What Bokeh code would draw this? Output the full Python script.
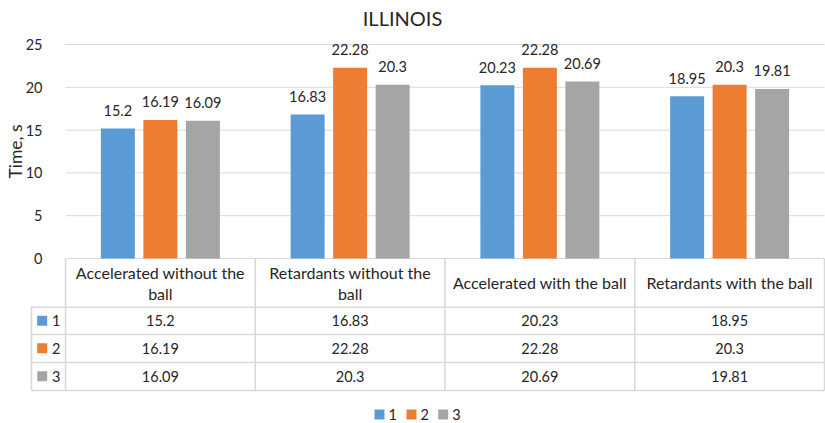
from bokeh.plotting import figure
from bokeh.models import Range1d, FixedTicker, ColumnDataSource
from bokeh.transform import dodge
from bokeh.core.properties import value
from bokeh.embed import file_html
from bokeh.resources import INLINE

# ---------------- data ----------------
title_text = "ILLINOIS"
categories = ["Accelerated without the ball", "Retardants without the ball",
              "Accelerated with the ball", "Retardants with the ball"]
header_lines = [["Accelerated without the", "ball"], ["Retardants without the", "ball"],
                ["Accelerated with the ball"], ["Retardants with the ball"]]
series_names = ["1", "2", "3"]
series1 = [15.2, 16.83, 20.23, 18.95]
series2 = [16.19, 22.28, 22.28, 20.3]
series3 = [16.09, 20.3, 20.69, 19.81]
y_ticks = [0, 5, 10, 15, 20, 25]
y_label = "Time, s"

# ---------------- style / layout ----------------
colors = ["#5B9BD5", "#ED7D31", "#A5A5A5"]
FONT = "Lato"
TXT = "#262626"
GRID = "#d9d9d9"
FS_NUM = "14.5px"
FS_TXT = "16px"
W, H = 825, 423
PLOT_L = 65         # left of category area (px)
PLOT_R = 824
TOP = 44            # y = 25
ZERO = 258          # y = 0
PX = (PLOT_R - PLOT_L) / 4.0
PY = (ZERO - TOP) / 25.0
offsets = [-42.5 / PX, 0.0, 42.5 / PX]
bar_w = 34 / PX

def fx(px):
    return (px - PLOT_L) / PX

series = [series1, series2, series3]
n = len(categories)
xs = [i + 0.5 for i in range(n)]

p = figure(width=W, height=H,
           x_range=Range1d(fx(0), fx(W)),
           y_range=Range1d(-(H - ZERO) / PY, 25 + TOP / PY),
           output_backend="svg", toolbar_location=None, x_axis_location=None,
           min_border=0)
p.outline_line_color = None
p.grid.visible = False
# table coordinates: pixels below the zero line
p.extra_y_ranges = {"tbl": Range1d(start=H - ZERO, end=-ZERO)}

ax = p.yaxis[0]
ax.fixed_location = 0
ax.bounds = (y_ticks[0], y_ticks[-1])
ax.ticker = FixedTicker(ticks=y_ticks)
ax.axis_line_color = None
ax.major_tick_line_color = None
ax.minor_tick_line_color = None
ax.major_label_standoff = 17
ax.major_label_text_font = FONT
ax.major_label_text_font_size = FS_NUM
ax.major_label_text_color = TXT
ax.axis_label = y_label
ax.axis_label_text_font = FONT
ax.axis_label_text_font_size = "17.5px"
ax.axis_label_text_font_style = "normal"
ax.axis_label_text_color = TXT
ax.axis_label_standoff = -3

# title
p.text(x=[fx(402)], y=[17 - ZERO], text=[title_text], text_align="center",
       text_baseline="middle", text_font=value(FONT), text_font_size="20px",
       text_color=TXT, y_range_name="tbl")

# horizontal grid lines over the category area
p.segment(x0=[0] * len(y_ticks), y0=y_ticks, x1=[4] * len(y_ticks), y1=y_ticks,
          line_color=GRID, line_width=1)

src = ColumnDataSource(dict(x=xs,
                            s0=series1, s1=series2, s2=series3,
                            l0=[str(v) for v in series1],
                            l1=[str(v) for v in series2],
                            l2=[str(v) for v in series3]))
for k in range(3):
    p.vbar(x=dodge("x", offsets[k]), top=f"s{k}", bottom=0, width=bar_w, fill_color=colors[k],
           line_color=None, source=src)
    p.text(x=dodge("x", offsets[k]), y=f"s{k}", text=f"l{k}", text_align="center",
           text_baseline="alphabetic", y_offset=-18, text_font=value(FONT),
           text_font_size=FS_NUM, text_color=TXT, source=src)

# ---------------- data table ----------------
row_y = [48.7, 76.0, 104.0, 132.0]
row_c = [62.3, 89.7, 117.7]
key_left = fx(31)
p.segment(x0=[key_left] * 4, y0=row_y, x1=[4.0] * 4, y1=row_y, line_color=GRID,
          line_width=1.6, y_range_name="tbl")
p.segment(x0=list(range(n + 1)), y0=[0] * (n + 1), x1=list(range(n + 1)), y1=[132] * (n + 1),
          line_color=GRID, line_width=1.6, y_range_name="tbl")
p.segment(x0=[key_left], y0=[48.7], x1=[key_left], y1=[132],
          line_color=GRID, line_width=1.6, y_range_name="tbl")

hx, hy, ht = [], [], []
for i, lines in enumerate(header_lines):
    ys = [24.3] if len(lines) == 1 else [13.7, 35.3]
    for t, yy in zip(lines, ys):
        hx.append(xs[i]); hy.append(yy); ht.append(t)
p.text(x=hx, y=hy, text=ht, text_align="center", text_baseline="middle",
       text_font=value(FONT), text_font_size=FS_TXT, text_color=TXT, y_range_name="tbl")

for k in range(3):
    p.text(x=xs, y=[row_c[k]] * n, text=[str(v) for v in series[k]], text_align="center",
           text_baseline="middle", text_font=value(FONT), text_font_size=FS_NUM,
           text_color=TXT, y_range_name="tbl")

p.scatter(x=[fx(41.7)] * 3, y=row_c, marker="square", size=10, fill_color=colors,
          line_color=None, y_range_name="tbl")
p.text(x=[fx(51.5)] * 3, y=row_c, text=series_names, text_align="left", text_baseline="middle",
       text_font=value(FONT), text_font_size=FS_NUM, text_color=TXT, y_range_name="tbl")

# ---------------- legend ----------------
leg_y = 156.0
p.scatter(x=[fx(379), fx(411), fx(442.7)], y=[leg_y] * 3, marker="square", size=10,
          fill_color=colors, line_color=None, y_range_name="tbl")
p.text(x=[fx(388), fx(420), fx(451.7)], y=[leg_y] * 3, text=series_names, text_align="left",
       text_baseline="middle", text_font=value(FONT), text_font_size=FS_NUM, text_color=TXT,
       y_range_name="tbl")

open("out.html", "w").write(file_html(p, INLINE))
